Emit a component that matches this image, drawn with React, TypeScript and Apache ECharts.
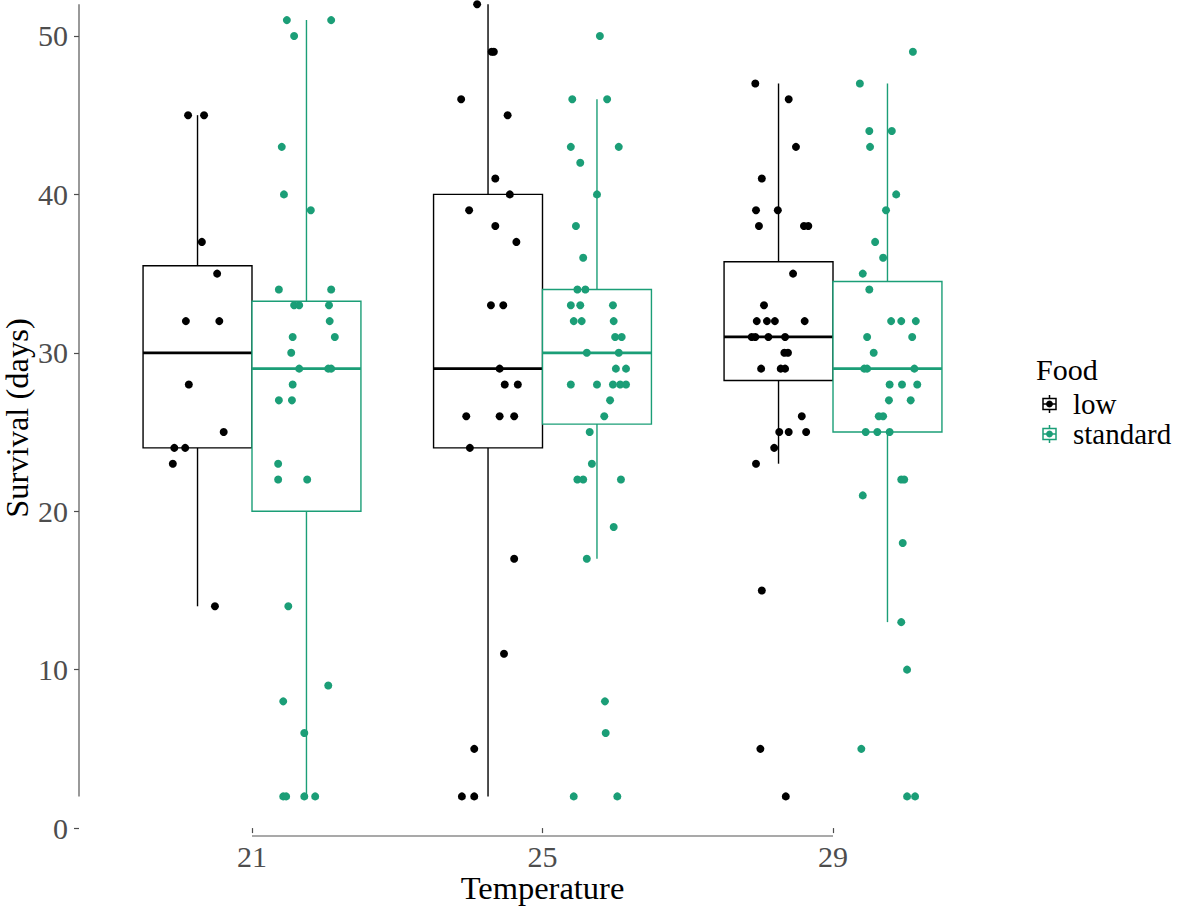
import React, { useEffect, useRef } from "react";
import * as echarts from "echarts";

// ---------- data ----------
const temperatures = [21, 25, 29];
const foods = ["low", "standard"];
const foodColors = ["#000000", "#1b9e77"];

// box statistics per temperature: [lower whisker, Q1, median, Q3, upper whisker]
const lowBoxes = [
  [14, 24, 30, 35.5, 45],
  [2, 24, 29, 40, 52],
  [23, 28.25, 31, 35.75, 47],
];
const standardBoxes = [
  [2, 20, 29, 33.25, 51],
  [17, 25.5, 30, 34, 46],
  [13, 25, 29, 34.5, 47],
];

// jittered observations: [temperature position, survival days]
const lowPoints = [
  [20.12, 45], [20.34, 45], [20.31, 37], [20.52, 35], [20.09, 32], [20.55, 32],
  [20.13, 28], [20.61, 25], [19.93, 24], [20.08, 24], [19.91, 23], [20.49, 14],
  [24.1, 52], [24.3, 49], [24.33, 49], [23.88, 46], [24.52, 45], [24.35, 41],
  [24.55, 40], [23.99, 39], [24.35, 38], [24.64, 37], [24.29, 33], [24.46, 33],
  [24.41, 29], [24.48, 28], [24.66, 28], [23.95, 26], [24.41, 26], [24.61, 26],
  [24.0, 24], [24.61, 17], [24.47, 11], [24.06, 5], [23.89, 2], [24.06, 2],
  [27.93, 47], [28.39, 46], [28.49, 43], [28.02, 41], [27.94, 39], [28.24, 39],
  [27.98, 38], [28.6, 38], [28.66, 38], [28.45, 35], [28.05, 33], [27.95, 32],
  [28.09, 32], [28.2, 32], [28.61, 32], [27.88, 31], [27.93, 31], [28.11, 31],
  [28.34, 31], [28.33, 30], [28.38, 30], [28.01, 29], [28.28, 29], [28.34, 29],
  [28.57, 26], [28.26, 25], [28.39, 25], [28.63, 25], [28.19, 24], [27.94, 23],
  [28.02, 15], [28.0, 5], [28.35, 2],
];
const standardPoints = [
  [21.48, 51], [22.09, 51], [21.58, 50], [21.41, 43], [21.44, 40], [21.81, 39],
  [21.37, 34], [22.09, 34], [21.58, 33], [21.65, 33], [22.06, 33], [22.07, 32],
  [21.56, 31], [22.14, 31], [21.54, 30], [21.65, 29], [22.05, 29], [22.09, 29],
  [21.56, 28], [21.37, 27], [21.55, 27], [21.36, 23], [21.36, 22], [21.76, 22],
  [21.5, 14], [22.05, 9], [21.43, 8], [21.72, 6], [21.43, 2], [21.47, 2],
  [21.72, 2], [21.87, 2],
  [25.79, 50], [25.41, 46], [25.89, 46], [25.39, 43], [26.05, 43], [25.52, 42],
  [25.75, 40], [25.46, 38], [25.56, 36], [25.48, 34], [25.59, 34], [25.39, 33],
  [25.52, 33], [25.97, 33], [25.43, 32], [25.54, 32], [25.98, 32], [26.0, 31],
  [26.09, 31], [25.61, 30], [26.05, 30], [26.01, 29], [26.15, 29], [25.39, 28],
  [25.75, 28], [25.97, 28], [26.07, 28], [26.15, 28], [25.93, 27], [25.85, 26],
  [25.65, 25], [25.68, 23], [25.48, 22], [25.56, 22], [26.08, 22], [25.98, 19],
  [25.61, 17], [25.86, 8], [25.87, 6], [25.43, 2], [26.03, 2],
  [30.1, 49], [29.37, 47], [29.5, 44], [29.81, 44], [29.51, 43], [29.87, 40],
  [29.73, 39], [29.58, 37], [29.69, 36], [29.41, 35], [29.5, 34], [29.8, 32],
  [29.94, 32], [30.14, 32], [29.47, 31], [30.09, 31], [29.56, 30], [29.43, 29],
  [29.47, 29], [30.12, 29], [29.78, 28], [29.95, 28], [30.16, 28], [29.77, 27],
  [30.07, 27], [29.63, 26], [29.69, 26], [29.45, 25], [29.61, 25], [29.78, 25],
  [29.94, 22], [29.98, 22], [29.41, 21], [29.96, 18], [29.94, 13], [30.02, 10],
  [29.39, 5], [30.02, 2], [30.13, 2],
];
const yTicks = [0, 10, 20, 30, 40, 50];

// ---------- layout / style ----------
const SERIF = '"Liberation Serif", "Times New Roman", serif';
const DODGE = 0.75;
const BOX_W = 1.5;
const X_MIN = 18.618;
const X_MAX = 31.382;
const Y_MIN = -0.5;
const Y_MAX = 52.27;
const AXIS_GREY = "#4d4d4d";

function boxRenderer(color: string) {
  return (params: any, api: any) => {
    const x = api.value(0);
    const pMin = api.coord([x, api.value(1)]);
    const pQ1 = api.coord([x, api.value(2)]);
    const pMed = api.coord([x, api.value(3)]);
    const pQ3 = api.coord([x, api.value(4)]);
    const pMax = api.coord([x, api.value(5)]);
    const w = api.size([BOX_W, 0])[0];
    const cx = pMed[0];
    const left = cx - w / 2;
    const lw = 1.4;
    return {
      type: "group",
      children: [
        { type: "line", shape: { x1: cx, y1: pQ3[1], x2: cx, y2: pMax[1] }, style: { stroke: color, lineWidth: lw } },
        { type: "line", shape: { x1: cx, y1: pQ1[1], x2: cx, y2: pMin[1] }, style: { stroke: color, lineWidth: lw } },
        {
          type: "rect",
          shape: { x: left, y: pQ3[1], width: w, height: pQ1[1] - pQ3[1] },
          style: { fill: "#ffffff", stroke: color, lineWidth: lw },
        },
        { type: "line", shape: { x1: left, y1: pMed[1], x2: left + w, y2: pMed[1] }, style: { stroke: color, lineWidth: 2.8 } },
      ],
    };
  };
}

function legendKey(color: string, cy: number) {
  return {
    type: "group",
    x: 1049.5,
    y: cy,
    children: [
      { type: "line", shape: { x1: 0, y1: -9, x2: 0, y2: -5.5 }, style: { stroke: color, lineWidth: 1.5 } },
      { type: "line", shape: { x1: 0, y1: 5.5, x2: 0, y2: 9 }, style: { stroke: color, lineWidth: 1.5 } },
      { type: "rect", shape: { x: -6.5, y: -5.5, width: 13, height: 11 }, style: { fill: "#fff", stroke: color, lineWidth: 1.5 } },
      { type: "line", shape: { x1: -6.5, y1: 0, x2: 6.5, y2: 0 }, style: { stroke: color, lineWidth: 1.5 } },
      { type: "circle", shape: { cx: 0, cy: 0, r: 3.4 }, style: { fill: color } },
    ],
  };
}

export default function App() {
  const ref = useRef<HTMLDivElement>(null);

  useEffect(() => {
    if (!ref.current) return;
    const chart = echarts.init(ref.current, undefined, { renderer: "svg" });

    const allY = [...lowPoints, ...standardPoints].map((p) => p[1]);
    const yLo = Math.min(...allY);
    const yHi = Math.max(...allY);

    const boxSets = [lowBoxes, standardBoxes];
    const pointSets = [lowPoints, standardPoints];

    const series: any[] = [];
    foods.forEach((food, fi) => {
      const offset = fi === 0 ? -DODGE : DODGE;
      series.push({
        type: "custom",
        name: food + " box",
        renderItem: boxRenderer(foodColors[fi]),
        data: boxSets[fi].map((b, i) => [temperatures[i] + offset, ...b]),
        encode: { x: 0, y: [1, 2, 3, 4, 5] },
        z: 2,
        silent: true,
        clip: false,
      });
    });
    foods.forEach((food, fi) => {
      series.push({
        type: "scatter",
        name: food,
        data: pointSets[fi],
        symbol: "circle",
        symbolSize: 8,
        itemStyle: { color: foodColors[fi], opacity: 1 },
        z: 5,
        silent: true,
      });
    });
    // range-frame axis lines
    series.push({
      type: "line",
      data: [[X_MIN, yLo], [X_MIN, yHi]],
      symbol: "none",
      lineStyle: { color: "#555", width: 1.2 },
      clip: false,
      silent: true,
      z: 1,
    });
    series.push({
      type: "line",
      data: [[temperatures[0], Y_MIN], [temperatures[temperatures.length - 1], Y_MIN]],
      symbol: "none",
      lineStyle: { color: "#555", width: 1.2 },
      clip: false,
      silent: true,
      z: 1,
    });

    const graphic: any[] = [
      {
        type: "text",
        x: 1036,
        y: 369,
        style: { text: "Food", fontSize: 30, fontFamily: SERIF, fill: "#000", align: "left", verticalAlign: "middle" },
      },
    ];
    foods.forEach((food, fi) => {
      const cy = 404 + fi * 30;
      graphic.push(legendKey(foodColors[fi], cy));
      graphic.push({
        type: "text",
        x: 1073,
        y: cy,
        style: { text: food, fontSize: 29, fontFamily: SERIF, fill: "#000", align: "left", verticalAlign: "middle" },
      });
    });

    chart.setOption({
      animation: false,
      backgroundColor: "#ffffff",
      grid: { left: 79, right: 175, top: 0, bottom: 70, containLabel: false, outerBoundsMode: "none" },
      xAxis: {
        type: "value",
        min: X_MIN,
        max: X_MAX,
        axisLine: { show: false },
        axisTick: { show: true, customValues: temperatures, length: 5, lineStyle: { color: AXIS_GREY, width: 1.2 } },
        axisLabel: {
          show: true,
          customValues: temperatures,
          fontSize: 30,
          lineHeight: 28,
          color: AXIS_GREY,
          fontFamily: SERIF,
          margin: 6,
        },
        splitLine: { show: false },
        name: "Temperature",
        nameLocation: "middle",
        nameGap: 35,
        nameMoveOverlap: false,
        nameTextStyle: { fontSize: 32.5, color: "#000", fontFamily: SERIF },
      },
      yAxis: {
        type: "value",
        min: Y_MIN,
        max: Y_MAX,
        axisLine: { show: false },
        axisTick: { show: true, customValues: yTicks, length: 5, lineStyle: { color: AXIS_GREY, width: 1.2 } },
        axisLabel: { show: true, customValues: yTicks, fontSize: 30, color: AXIS_GREY, fontFamily: SERIF, margin: 11 },
        splitLine: { show: false },
        name: "Survival (days)",
        nameLocation: "middle",
        nameGap: 46,
        nameMoveOverlap: false,
        nameTextStyle: { fontSize: 32.5, color: "#000", fontFamily: SERIF },
      },
      graphic,
      series,
    });

    return () => chart.dispose();
  }, []);

  return (
    <div
      ref={ref}
      style={{ position: "fixed", left: 0, top: 0, width: 1181, height: 906, background: "#fff" }}
    />
  );
}
